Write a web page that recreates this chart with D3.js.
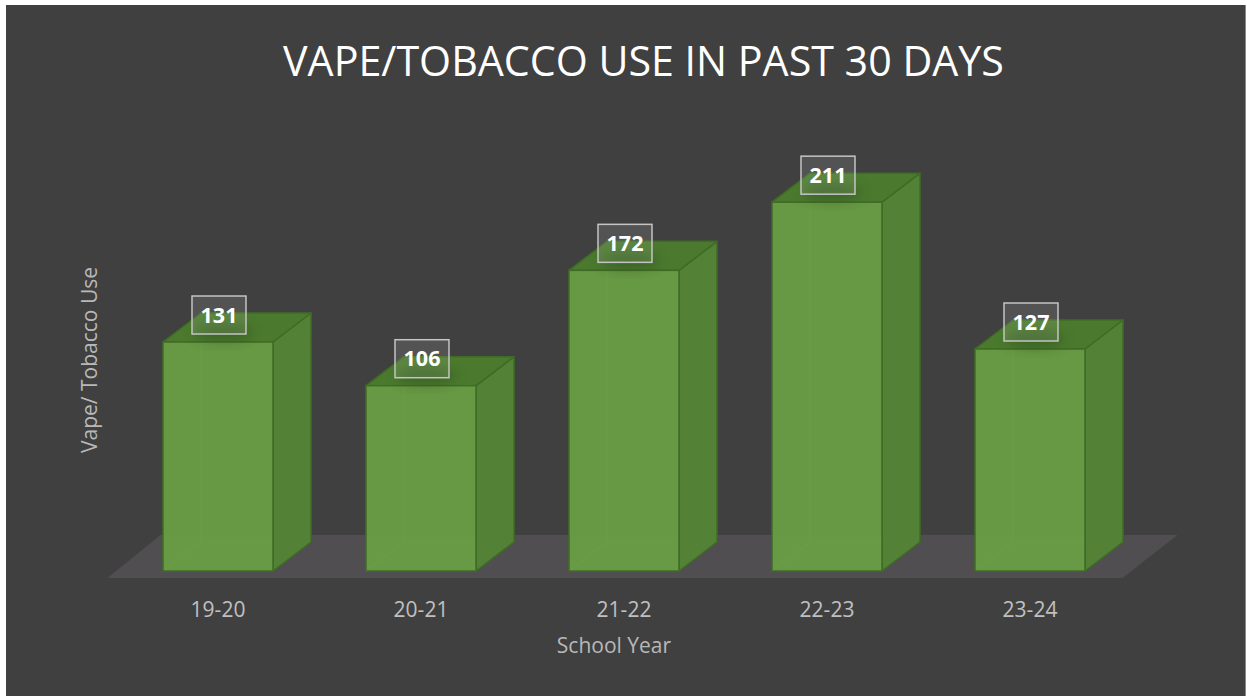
<!DOCTYPE html>
<html>
<head>
<meta charset="utf-8">
<script src="https://cdn.jsdelivr.net/npm/d3@7"></script>
<style>
html,body{margin:0;padding:0;background:#ffffff;}
svg{display:block;}
</style>
</head>
<body>
<svg id="chart" width="1247" height="696"></svg>
<script>
const categories = ["19-20", "20-21", "21-22", "22-23", "23-24"];
const values = [131, 106, 172, 211, 127];
const chartTitle = "VAPE/TOBACCO USE IN PAST 30 DAYS";
const xTitle = "School Year";
const yTitle = "Vape/ Tobacco Use";

const svg = d3.select("#chart");
const font = "'Open Sans', 'Noto Sans', sans-serif";

// background panel
svg.append("rect").attr("x", 6).attr("y", 5).attr("width", 1239).attr("height", 691)
  .attr("fill", "#404040");
svg.append("line").attr("x1", 1245.5).attr("x2", 1245.5).attr("y1", 5).attr("y2", 696)
  .attr("stroke", "#8a8a8a").attr("stroke-width", 1);

// scales
const baseY = 571;
const y = d3.scaleLinear().domain([0, 250]).range([baseY, baseY - 250 * 1.748]);
const x = d3.scaleBand().domain(categories).range([116.5, 1131.5])
  .paddingInner(0.458).paddingOuter(0.229);
const dx = 38, dy = -29;

// floor
const fl = x.range()[0], fr = x.range()[1];
svg.append("path")
  .attr("d", `M${fl - 9},578 L${fr - 9},578 L${fr + 46},535 L${fl + 44},535 Z`)
  .attr("fill", "#504e50");

// defs
const defs = svg.append("defs");
const blur = defs.append("filter").attr("id", "blur").attr("x", "-50%").attr("y", "-50%")
  .attr("width", "200%").attr("height", "200%");
blur.append("feGaussianBlur").attr("stdDeviation", 6);

const data = categories.map((c, i) => ({c, v: values[i]}));
const bw = x.bandwidth();

const bars = svg.append("g").selectAll("g").data(data).join("g");

// hidden back edges (seen through translucent faces)
bars.append("path")
  .attr("d", d => {
    const x0 = x(d.c), yt = y(d.v);
    return `M${x0},${baseY} L${x0 + dx},${baseY + dy} L${x0 + bw + dx},${baseY + dy}` +
           ` M${x0 + dx},${baseY + dy} L${x0 + dx},${yt + dy}`;
  })
  .attr("fill", "none").attr("stroke", "#7fb258").attr("stroke-width", 1).attr("opacity", 0.6);

// side face
bars.append("path")
  .attr("d", d => {
    const x1 = x(d.c) + bw, yt = y(d.v);
    return `M${x1},${baseY} L${x1 + dx},${baseY + dy} L${x1 + dx},${yt + dy} L${x1},${yt} Z`;
  })
  .attr("fill", "#538236").attr("stroke", "#3f6c25").attr("stroke-width", 1.5)
  .attr("stroke-linejoin", "round");

// top face
bars.append("path")
  .attr("d", d => {
    const x0 = x(d.c), yt = y(d.v);
    return `M${x0},${yt} L${x0 + bw},${yt} L${x0 + bw + dx},${yt + dy} L${x0 + dx},${yt + dy} Z`;
  })
  .attr("fill", "#4b7a2e").attr("stroke", "#3f6c25").attr("stroke-width", 1.5)
  .attr("stroke-linejoin", "round");

// front face
bars.append("rect")
  .attr("x", d => x(d.c)).attr("y", d => y(d.v))
  .attr("width", bw).attr("height", d => baseY - y(d.v))
  .attr("fill", "#6a9f45").attr("fill-opacity", 0.93)
  .attr("stroke", "#3f6c25").attr("stroke-width", 1.5);

// label shadow on top
bars.append("ellipse")
  .attr("cx", d => x(d.c) + bw / 2 + 5)
  .attr("cy", d => y(d.v) - 10)
  .attr("rx", 30).attr("ry", 9)
  .attr("fill", "#2a4a1a").attr("opacity", 0.45).attr("filter", "url(#blur)");

// value label boxes
const boxW = 54, boxH = 38;
bars.append("rect")
  .attr("x", d => x(d.c) + bw / 2 - boxW / 2 + 1)
  .attr("y", d => y(d.v) - 27 - boxH / 2)
  .attr("width", boxW).attr("height", boxH)
  .attr("fill", "#ffffff").attr("fill-opacity", 0.1)
  .attr("stroke", "#c4c4c4").attr("stroke-width", 1.5);
bars.append("text")
  .attr("x", d => x(d.c) + bw / 2 + 1)
  .attr("y", d => y(d.v) - 27)
  .attr("dy", "0.36em")
  .attr("text-anchor", "middle")
  .attr("font-family", font).attr("font-weight", 700).attr("font-size", 21.5)
  .attr("fill", "#ffffff")
  .text(d => d.v);

// x axis (labels only)
const xAxis = d3.axisBottom(x).tickSize(0).tickPadding(0);
const gx = svg.append("g").attr("transform", "translate(0,617)").call(xAxis);
gx.select(".domain").remove();
gx.selectAll("text").attr("dy", 0).attr("y", 0)
  .attr("font-family", font).attr("font-size", 21).attr("fill", "#c0c0c0");

// axis titles
svg.append("text").attr("x", 614).attr("y", 653).attr("text-anchor", "middle")
  .attr("font-family", font).attr("font-size", 21).attr("fill", "#b8b8b8").text(xTitle);
svg.append("text").attr("transform", "translate(97,360) rotate(-90)")
  .attr("text-anchor", "middle")
  .attr("font-family", font).attr("font-size", 21).attr("fill", "#b8b8b8").text(yTitle);

// title
const t = svg.append("text").attr("x", 643.5).attr("y", 76).attr("text-anchor", "middle")
  .attr("font-family", font).attr("font-size", 40).attr("fill", "#ffffff").text(chartTitle);
const tw = t.node().getComputedTextLength();
t.attr("font-size", 40 * 721 / tw);
</script>
</body>
</html>
